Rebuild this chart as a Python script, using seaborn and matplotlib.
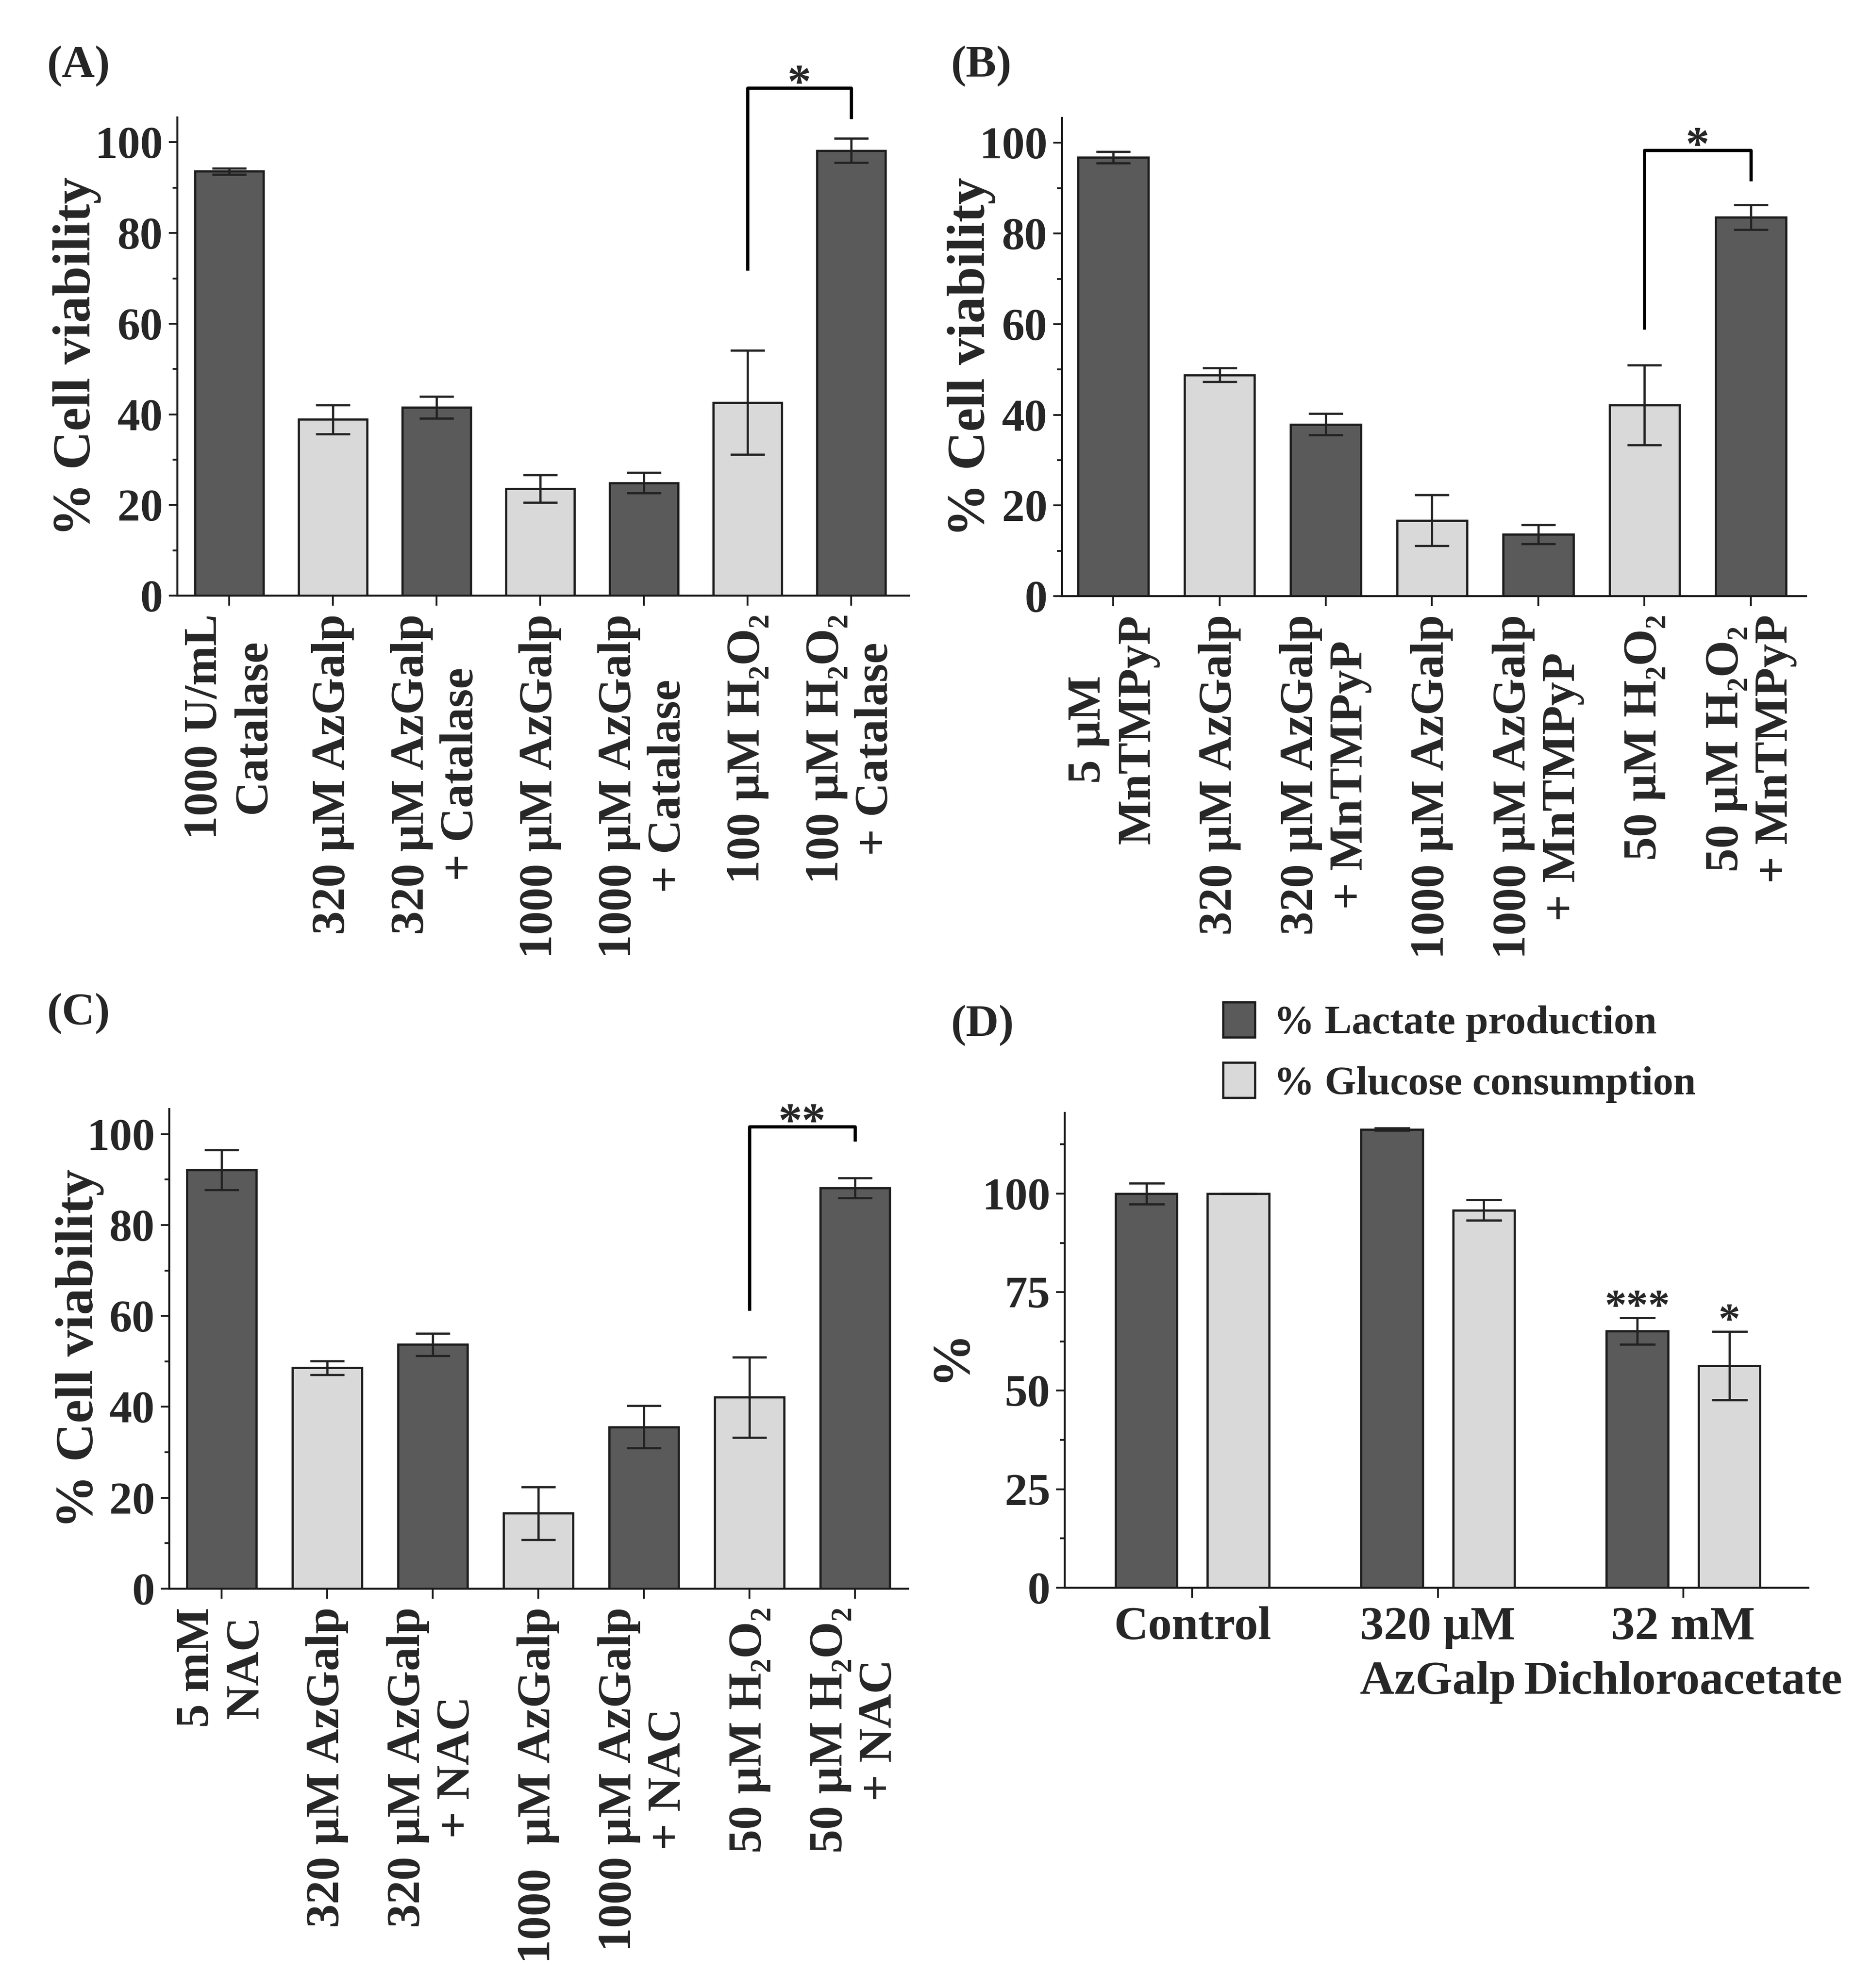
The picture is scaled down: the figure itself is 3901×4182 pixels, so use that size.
import numpy as np
import pandas as pd
import matplotlib
matplotlib.use("Agg")
import matplotlib.pyplot as plt
import seaborn as sns
from matplotlib.ticker import MultipleLocator
from matplotlib.container import BarContainer

# ---------------- data ----------------
labels_a = ["1000 U/mL\nCatalase", "320 µM AzGalp", "320 µM AzGalp\n+ Catalase",
            "1000 µM AzGalp", "1000 µM AzGalp\n+ Catalase", "100 µM H₂O₂",
            "100 µM H₂O₂\n+ Catalase"]
values_a = [93.6, 38.9, 41.5, 23.6, 24.9, 42.6, 98.2]
err_a = [0.7, 3.2, 2.4, 3.0, 2.3, 11.5, 2.7]

labels_b = ["5 µM\nMnTMPyP", "320 µM AzGalp", "320 µM AzGalp\n+ MnTMPyP",
            "1000 µM AzGalp", "1000 µM AzGalp\n+ MnTMPyP", "50 µM H₂O₂",
            "50 µM H₂O₂\n+ MnTMPyP"]
values_b = [96.8, 48.8, 37.9, 16.7, 13.6, 42.2, 83.6]
err_b = [1.3, 1.5, 2.4, 5.6, 2.1, 8.8, 2.7]

labels_c = ["5 mM\nNAC", "320 µM AzGalp", "320 µM AzGalp\n+ NAC",
            "1000  µM AzGalp", "1000 µM AzGalp\n+ NAC", "50 µM H₂O₂",
            "50 µM H₂O₂\n+ NAC"]
values_c = [92.1, 48.6, 53.7, 16.6, 35.6, 42.1, 88.1]
err_c = [4.4, 1.5, 2.5, 5.8, 4.7, 8.8, 2.2]

shade_abc = ["dark", "light", "dark", "light", "dark", "light", "dark"]

groups_d = ["Control", "320 µM\nAzGalp", "32 mM\nDichloroacetate"]
series_d = ["% Lactate production", "% Glucose consumption"]
lactate_d = [100.0, 116.3, 65.1]
lactate_err_d = [2.6, 0.3, 3.4]
glucose_d = [100.0, 95.8, 56.3]
glucose_err_d = [0.0, 2.6, 8.7]
stars_d = [["", "", "***"], ["", "", "*"]]

# significance brackets: (left bar, right bar, left foot, top, right foot, text)
bracket_a = (5, 6, 71.7, 112.0, 105.2, "*")
bracket_b = (5, 6, 58.8, 98.4, 91.5, "*")
bracket_c = (5, 6, 61.2, 101.6, 98.4, "**")

# ---------------- style ----------------
W, H, DPI = 3901, 4182, 300
DARK = "#5a5a5a"
LIGHT = "#d9d9d9"
EDGE = "#1c1c1c"
ERRC = "#222222"

sns.set_style("ticks")
plt.rcParams["font.family"] = ["Liberation Serif", "DejaVu Serif"]
plt.rcParams["font.weight"] = "bold"
plt.rcParams["axes.labelweight"] = "bold"
plt.rcParams["axes.linewidth"] = 1.0
plt.rcParams["axes.edgecolor"] = "#1a1a1a"

fig = plt.figure(figsize=(W / DPI, H / DPI), dpi=DPI)


def add_ax(left, right, top, bottom):
    return fig.add_axes([left / W, 1 - bottom / H, (right - left) / W, (bottom - top) / H])


def style_axis(ax, ymax, major, minor, xlim):
    ax.set_ylim(0, ymax)
    ax.set_xlim(*xlim)
    ax.yaxis.set_major_locator(MultipleLocator(major))
    ax.yaxis.set_minor_locator(MultipleLocator(minor))
    ax.tick_params(axis="y", which="major", length=4.3, width=0.9, pad=3,
                   labelsize=23, color="#1a1a1a")
    ax.tick_params(axis="y", which="minor", length=2.3, width=0.9, color="#1a1a1a")
    ax.tick_params(axis="x", which="major", length=5, width=0.9, pad=4.3,
                   labelsize=24, color="#1a1a1a")
    ax.tick_params(axis="x", which="minor", length=0)
    sns.despine(ax=ax)
    for lab in ax.get_yticklabels():
        lab.set_fontweight("bold")


def bar_centers(ax):
    conts = [c for c in ax.containers if isinstance(c, BarContainer)]
    return [[b.get_x() + b.get_width() / 2 for b in c] for c in conts]


def single_panel(ax, labels, values, errs, bracket, xlim, ylab_x):
    df = pd.DataFrame({"label": labels, "value": values, "shade": shade_abc})
    pal = {l: (DARK if s == "dark" else LIGHT) for l, s in zip(labels, shade_abc)}
    sns.barplot(data=df, x="label", y="value", hue="label", palette=pal, order=labels,
                hue_order=labels, width=0.66, edgecolor=EDGE, linewidth=1.1,
                errorbar=None, legend=False, saturation=1, ax=ax)
    xs = [x for c in bar_centers(ax) for x in c]
    ax.errorbar(xs, values, yerr=errs, fmt="none", ecolor=ERRC, elinewidth=1.1,
                capsize=8.6, capthick=1.1, zorder=5)
    style_axis(ax, 105.5, 20, 10, xlim)
    ax.set_xticks(range(len(labels)))
    ax.set_xticklabels(labels, rotation=90, multialignment="center",
                       fontsize=24, fontweight="bold")
    ax.set_xlabel("")
    ax.set_ylabel("% Cell viability", fontsize=27, fontweight="bold")
    ax.yaxis.set_label_coords(ylab_x, 0.5)
    i1, i2, f1, top, f2, txt = bracket
    ax.plot([xs[i1], xs[i1], xs[i2], xs[i2]], [f1, top, top, f2], color="black",
            lw=1.6, clip_on=False, solid_capstyle="butt", zorder=6)
    ax.text((xs[i1] + xs[i2]) / 2, top - 1.9, txt, ha="center", va="baseline",
            fontsize=24, fontweight="bold", clip_on=False)


ax_a = add_ax(373, 1912, 247, 1253)
single_panel(ax_a, labels_a, values_a, err_a, bracket_a, (-0.5, 6.56), -0.104)
ax_b = add_ax(2233, 3798, 248, 1254)
single_panel(ax_b, labels_b, values_b, err_b, bracket_b, (-0.484, 6.52), -0.089)
ax_c = add_ax(356, 1910, 2333, 3342)
single_panel(ax_c, labels_c, values_c, err_c, bracket_c, (-0.495, 6.505), -0.088)

# ---------------- panel D ----------------
ax_d = add_ax(2239, 3803, 2341, 3340)
df_d = pd.DataFrame({
    "group": groups_d * 2,
    "series": [series_d[0]] * 3 + [series_d[1]] * 3,
    "value": lactate_d + glucose_d,
})
sns.barplot(data=df_d, x="group", y="value", hue="series", order=groups_d,
            hue_order=series_d, palette=[DARK, LIGHT], width=0.75, gap=0.33,
            edgecolor=EDGE, linewidth=1.1, errorbar=None, saturation=1, ax=ax_d)
errs_d = [lactate_err_d, glucose_err_d]
vals_d = [lactate_d, glucose_d]
centers_d = bar_centers(ax_d)
for k, xs in enumerate(centers_d):
    ax_d.errorbar(xs, vals_d[k], yerr=errs_d[k], fmt="none", ecolor=ERRC,
                  elinewidth=1.1, capsize=9, capthick=1.1, zorder=5)
    for x, v, e, s in zip(xs, vals_d[k], errs_d[k], stars_d[k]):
        if s:
            ax_d.text(x, v + e - 0.4, s, ha="center", va="baseline", fontsize=22,
                      fontweight="bold")
style_axis(ax_d, 120.5, 25, 12.5, (-0.52, 2.51))
ax_d.set_xticks(range(3))
ax_d.set_xticklabels(groups_d, multialignment="center", fontsize=24,
                     fontweight="bold", linespacing=1.37)
ax_d.set_xlabel("")
ax_d.set_ylabel("%", fontsize=27, fontweight="bold")
ax_d.yaxis.set_label_coords(-0.119, 0.49)
sns.move_legend(ax_d, loc="upper left", bbox_to_anchor=(2572 / W, 1 - 2108 / H),
                bbox_transform=fig.transFigure, frameon=False, title=None,
                fontsize=20.5, borderpad=0, borderaxespad=0, handlelength=0.78,
                handleheight=0.96, handletextpad=0.47, labelspacing=0.5)
for t in ax_d.get_legend().get_texts():
    t.set_fontweight("bold")

# ---------------- panel letters ----------------
for txt, (px, py) in {"(A)": (99, 95), "(B)": (2000, 95),
                      "(C)": (99, 2088), "(D)": (2000, 2113)}.items():
    fig.text(px / W, 1 - py / H, txt, ha="left", va="top", fontsize=23,
             fontweight="bold")

fig.savefig("out.png", dpi=DPI, facecolor="white")
